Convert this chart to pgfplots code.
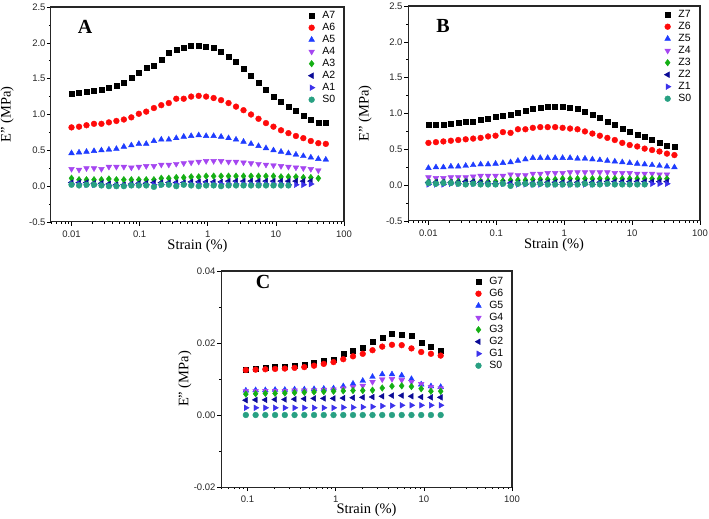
\documentclass[border=0pt]{standalone}
\usepackage{pgfplots}
\usepackage{pgfplotstable}
\pgfplotsset{compat=1.18}
\usepackage{fontspec}
\setmainfont{Liberation Serif}
\newfontfamily\sansf{Liberation Sans}

\definecolor{cRed}{RGB}{255,10,10}
\definecolor{cBlue}{RGB}{30,60,255}
\definecolor{cViolet}{RGB}{165,70,240}
\definecolor{cGreen}{RGB}{20,175,20}
\definecolor{cNavy}{RGB}{10,10,150}
\definecolor{cBV}{RGB}{60,50,235}
\definecolor{cTeal}{RGB}{40,160,130}

\pgfplotstableread{
x A7 A6 A5 A4 A3 A2 A1 S0
0.0100 1.29 0.82 0.46 0.24 0.11 0.05 0.03 0.02
0.0129 1.31 0.83 0.47 0.23 0.09 0.05 0.03 0.01
0.0166 1.32 0.85 0.48 0.25 0.09 0.05 0.02 0.02
0.0214 1.33 0.87 0.49 0.25 0.09 0.04 0.02 0.02
0.0275 1.35 0.87 0.50 0.24 0.09 0.04 0.02 0.01
0.0354 1.37 0.89 0.51 0.27 0.10 0.03 0.01 0.00
0.0456 1.40 0.91 0.52 0.27 0.09 0.02 0.01 0.00
0.0587 1.45 0.93 0.55 0.27 0.09 0.02 0.01 0.00
0.0756 1.51 0.96 0.57 0.26 0.09 0.03 0.02 0.01
0.0974 1.58 1.01 0.59 0.27 0.09 0.04 0.02 0.01
0.125 1.65 1.04 0.59 0.28 0.09 0.04 0.02 0.01
0.162 1.68 1.09 0.63 0.28 0.09 0.05 0.02 -0.01
0.208 1.77 1.13 0.65 0.30 0.11 0.05 0.02 0.02
0.268 1.86 1.16 0.65 0.30 0.11 0.05 0.03 0.02
0.345 1.90 1.22 0.67 0.31 0.12 0.05 0.03 0.00
0.444 1.93 1.22 0.69 0.32 0.12 0.05 0.03 0.02
0.571 1.96 1.25 0.70 0.33 0.13 0.06 0.03 0.01
0.736 1.96 1.26 0.71 0.34 0.13 0.06 0.03 0.00
0.947 1.95 1.25 0.70 0.35 0.14 0.06 0.03 0.01
1.22 1.93 1.23 0.70 0.35 0.14 0.06 0.03 0.01
1.57 1.87 1.20 0.69 0.35 0.14 0.06 0.03 0.00
2.02 1.81 1.16 0.67 0.34 0.14 0.07 0.03 0.01
2.60 1.73 1.11 0.65 0.34 0.14 0.07 0.03 0.01
3.35 1.64 1.06 0.62 0.33 0.14 0.07 0.03 0.01
4.32 1.54 1.00 0.59 0.32 0.14 0.07 0.03 0.01
5.56 1.44 0.94 0.56 0.31 0.14 0.07 0.03 0.01
7.16 1.35 0.88 0.53 0.30 0.14 0.07 0.03 0.01
9.22 1.25 0.83 0.50 0.29 0.14 0.07 0.03 0.01
11.9 1.18 0.78 0.48 0.28 0.13 0.07 0.03 0.01
15.3 1.11 0.74 0.46 0.27 0.13 0.07 0.02 0.01
19.7 1.05 0.70 0.44 0.26 0.13 0.07 0.02 nan
25.3 0.99 0.67 0.42 0.25 0.12 0.07 0.02 nan
32.6 0.93 0.63 0.40 0.24 0.12 0.07 0.03 nan
42.0 0.89 0.60 0.38 0.22 0.11 nan nan nan
54.1 0.88 0.59 0.37 nan nan nan nan nan
}\tabA

\pgfplotstableread{
x Z7 Z6 Z5 Z4 Z3 Z2 Z1 S0
0.0100 0.84 0.59 0.24 0.11 0.04 0.04 0.01 0.03
0.0129 0.85 0.60 0.25 0.10 0.04 0.04 0.01 0.02
0.0166 0.85 0.61 0.25 0.10 0.04 0.04 0.01 0.03
0.0214 0.86 0.62 0.26 0.11 0.04 0.04 0.02 0.03
0.0275 0.87 0.63 0.26 0.11 0.05 0.04 0.02 0.02
0.0354 0.88 0.64 0.27 0.11 0.05 0.05 0.02 0.01
0.0456 0.89 0.65 0.28 0.12 0.05 0.05 0.02 0.02
0.0587 0.91 0.66 0.29 0.13 0.05 0.04 0.02 0.01
0.0756 0.93 0.68 0.29 0.13 0.05 0.03 0.02 0.01
0.0974 0.95 0.69 0.30 0.13 0.05 0.02 0.02 0.01
0.125 0.97 0.74 0.31 0.13 0.06 0.03 0.02 0.02
0.162 0.99 0.73 0.32 0.15 0.07 0.03 0.01 -0.01
0.208 1.01 0.78 0.34 0.14 0.07 0.03 0.01 0.02
0.268 1.04 0.78 0.36 0.14 0.07 0.03 0.01 0.02
0.345 1.07 0.80 0.38 0.16 0.08 0.03 0.01 0.01
0.444 1.08 0.81 0.38 0.16 0.08 0.04 0.01 0.02
0.571 1.09 0.81 0.38 0.17 0.08 0.04 0.01 0.01
0.736 1.10 0.81 0.38 0.17 0.08 0.04 0.01 0.01
0.947 1.09 0.80 0.38 0.17 0.09 0.04 0.01 0.01
1.22 1.08 0.79 0.38 0.18 0.09 0.04 0.01 0.01
1.57 1.06 0.78 0.37 0.18 0.09 0.04 0.01 0.01
2.02 1.03 0.75 0.37 0.18 0.09 0.04 0.01 0.02
2.60 0.99 0.72 0.36 0.18 0.09 0.04 0.01 0.01
3.35 0.94 0.69 0.35 0.18 0.09 0.04 0.02 0.01
4.32 0.89 0.66 0.34 0.18 0.09 0.05 0.02 0.02
5.56 0.84 0.63 0.33 0.17 0.09 0.05 0.02 0.01
7.16 0.79 0.59 0.32 0.17 0.09 0.05 0.02 0.01
9.22 0.74 0.56 0.31 0.17 0.09 0.05 0.02 0.01
11.9 0.70 0.54 0.30 0.16 0.09 0.05 0.02 0.01
15.3 0.67 0.51 0.29 0.16 0.09 0.05 0.02 0.01
19.7 0.63 0.49 0.28 0.16 0.09 0.05 0.02 nan
25.3 0.59 0.47 0.27 0.15 0.09 0.05 0.02 nan
32.6 0.55 0.44 0.26 0.15 0.09 0.05 0.02 nan
42.0 0.53 0.42 0.25 nan nan nan nan nan
}\tabB

\pgfplotstableread{
x G7 G6 G5 G4 G3 G2 G1 S0
0.0957 0.0127 0.0125 0.0068 0.0066 0.0058 0.0041 0.0020 0
0.1235 0.0130 0.0126 0.0069 0.0066 0.0059 0.0042 0.0020 0
0.1592 0.0131 0.0127 0.0069 0.0067 0.0060 0.0042 0.0020 0
0.2054 0.0133 0.0128 0.0070 0.0067 0.0060 0.0043 0.0020 0
0.2649 0.0135 0.0129 0.0070 0.0067 0.0061 0.0043 0.0020 0
0.3416 0.0138 0.0131 0.0071 0.0068 0.0062 0.0044 0.0020 0
0.4406 0.0141 0.0133 0.0071 0.0068 0.0063 0.0045 0.0020 0
0.5682 0.0146 0.0137 0.0072 0.0069 0.0064 0.0046 0.0020 0
0.7328 0.0150 0.0142 0.0073 0.0070 0.0065 0.0046 0.0020 0
0.9452 0.0155 0.0147 0.0074 0.0071 0.0066 0.0046 0.0020 0
1.219 0.0170 0.0155 0.0080 0.0074 0.0067 0.0047 0.0021 0
1.572 0.0180 0.0163 0.0087 0.0078 0.0068 0.0048 0.0021 0
2.028 0.0188 0.0170 0.0095 0.0081 0.0068 0.0049 0.0022 0
2.616 0.0205 0.0180 0.0106 0.0092 0.0069 0.0050 0.0023 0
3.373 0.0216 0.0190 0.0113 0.0099 0.0075 0.0052 0.0025 0
4.350 0.0225 0.0195 0.0113 0.0100 0.0080 0.0054 0.0026 0
5.610 0.0224 0.0194 0.0110 0.0097 0.0081 0.0054 0.0027 0
7.236 0.0220 0.0185 0.0100 0.0092 0.0079 0.0052 0.0027 0
9.333 0.0200 0.0175 0.0085 0.0086 0.0073 0.0050 0.0027 0
12.04 0.0190 0.0170 0.0080 0.0078 0.0066 0.0049 0.0027 0
15.52 0.0180 0.0165 0.0078 0.0074 0.0066 0.0049 0.0027 0
}\tabC

\tikzset{frameline/.style={draw=black!85, line width=1.1pt}}

\pgfplotsset{
  every axis/.append style={
    scale only axis, clip=false,
    tick align=outside, xtick pos=left, ytick pos=left,
    major tick length=4pt, minor tick length=2pt,
    axis line style={black!85, line width=1pt},
    every tick/.style={black, line width=0.6pt},
    tick label style={font=\sansf\fontsize{9.5}{10}\selectfont, text=black!85},
    xticklabel style={yshift=-1pt},
    yticklabel style={xshift=2pt},
    label style={font=\fontsize{14.5}{15}\selectfont},
    xlabel style={at={(axis description cs:0.5,-0.113)}, anchor=center},
    scaled y ticks=false,
    legend cell align=left,
    legend style={at={(1,1)}, anchor=north east, xshift=-5pt, yshift=-1pt,
      draw=none, fill=none, font=\sansf\fontsize{10.5}{10}\selectfont,
      row sep=1pt, column sep=7pt, line width=0.4pt,
      nodes={inner sep=0.5pt, text height=8pt, text depth=2pt}},
  },
  sA/.style={only marks, black, mark=square*, mark size=2.5pt},
  sB/.style={only marks, cRed, mark=*, mark size=2.9pt},
  sC/.style={only marks, cBlue, mark=triangle*, mark size=3.3pt},
  sD/.style={only marks, cViolet, mark=triangle*, mark size=3.3pt, mark options={rotate=180}},
  sE/.style={only marks, cGreen, mark=diamond*, mark size=3.3pt},
  sF/.style={only marks, cNavy, mark=triangle*, mark size=3.3pt, mark options={rotate=90}},
  sG/.style={only marks, cBV, mark=triangle*, mark size=3.3pt, mark options={rotate=-90}},
  sH/.style={only marks, cTeal, mark=*, mark size=2.9pt},
}

\begin{document}
\begin{tikzpicture}
\useasboundingbox (0pt,0pt) rectangle (709pt,519pt);

% Panel A
\begin{axis}[xmode=log, at={(51pt,297pt)}, anchor=south west, width=293pt, height=215pt,
  xmin=0.005, xmax=100,
  xtick={0.01,0.1,1,10,100}, xticklabels={0.01,0.1,1,10,100},
  minor xtick={0.005,0.006,0.007,0.008,0.009,0.02,0.03,0.04,0.05,0.06,0.07,0.08,0.09,0.2,0.3,0.4,0.5,0.6,0.7,0.8,0.9,2,3,4,5,6,7,8,9,20,30,40,50,60,70,80,90},
  ymin=-0.5, ymax=2.5, ytick={-0.5,0,0.5,1,1.5,2,2.5}, minor y tick num=1,
  yticklabel={\pgfmathprintnumber[fixed,fixed zerofill,precision=1,assume math mode=true]{\tick}},
  xlabel={Strain (\%)}, ylabel={E'' (MPa)},
  ylabel style={at={(axis description cs:-0.150,0.5)}, anchor=center},
  legend image code/.code={\draw[mark repeat=2,mark phase=2,#1] plot coordinates {(0pt,0pt) (5pt,0pt) (10pt,0pt)};}]
\addplot[sA] table[x=x,y=A7] {\tabA}; \addlegendentry{A7}
\addplot[sB] table[x=x,y=A6] {\tabA}; \addlegendentry{A6}
\addplot[sC] table[x=x,y=A5] {\tabA}; \addlegendentry{A5}
\addplot[sD] table[x=x,y=A4] {\tabA}; \addlegendentry{A4}
\addplot[sE] table[x=x,y=A3] {\tabA}; \addlegendentry{A3}
\addplot[sF] table[x=x,y=A2] {\tabA}; \addlegendentry{A2}
\addplot[sG] table[x=x,y=A1] {\tabA}; \addlegendentry{A1}
\addplot[sH] table[x=x,y=S0] {\tabA}; \addlegendentry{S0}
\draw[frameline] (axis cs:0.005,2.5) -- (axis cs:100,2.5) -- (axis cs:100,-0.5);
\node[font=\bfseries\fontsize{20}{20}\selectfont] at (axis description cs:0.116,0.907) {A};
\end{axis}

% Panel B
\begin{axis}[xmode=log, at={(408pt,298pt)}, anchor=south west, width=292pt, height=215pt,
  xmin=0.005, xmax=100,
  xtick={0.01,0.1,1,10,100}, xticklabels={0.01,0.1,1,10,100},
  minor xtick={0.005,0.006,0.007,0.008,0.009,0.02,0.03,0.04,0.05,0.06,0.07,0.08,0.09,0.2,0.3,0.4,0.5,0.6,0.7,0.8,0.9,2,3,4,5,6,7,8,9,20,30,40,50,60,70,80,90},
  ymin=-0.5, ymax=2.5, ytick={-0.5,0,0.5,1,1.5,2,2.5}, minor y tick num=1,
  yticklabel={\pgfmathprintnumber[fixed,fixed zerofill,precision=1,assume math mode=true]{\tick}},
  xlabel={Strain (\%)}, ylabel={E'' (MPa)},
  ylabel style={at={(axis description cs:-0.147,0.5)}, anchor=center},
  legend image code/.code={\draw[mark repeat=2,mark phase=2,#1] plot coordinates {(0pt,0pt) (5pt,0pt) (10pt,0pt)};}]
\addplot[sA] table[x=x,y=Z7] {\tabB}; \addlegendentry{Z7}
\addplot[sB] table[x=x,y=Z6] {\tabB}; \addlegendentry{Z6}
\addplot[sC] table[x=x,y=Z5] {\tabB}; \addlegendentry{Z5}
\addplot[sD] table[x=x,y=Z4] {\tabB}; \addlegendentry{Z4}
\addplot[sE] table[x=x,y=Z3] {\tabB}; \addlegendentry{Z3}
\addplot[sF] table[x=x,y=Z2] {\tabB}; \addlegendentry{Z2}
\addplot[sG] table[x=x,y=Z1] {\tabB}; \addlegendentry{Z1}
\addplot[sH] table[x=x,y=S0] {\tabB}; \addlegendentry{S0}
\draw[frameline] (axis cs:0.005,2.5) -- (axis cs:100,2.5) -- (axis cs:100,-0.5);
\node[font=\bfseries\fontsize{20}{20}\selectfont] at (axis description cs:0.12,0.907) {B};
\end{axis}

% Panel C
\begin{axis}[xmode=log, at={(221pt,32pt)}, anchor=south west, width=291pt, height=216pt,
  xmin=0.05, xmax=100, xtick={0.1,1,10,100}, xticklabels={0.1,1,10,100},
  minor xtick={0.05,0.06,0.07,0.08,0.09,0.2,0.3,0.4,0.5,0.6,0.7,0.8,0.9,2,3,4,5,6,7,8,9,20,30,40,50,60,70,80,90},
  ymin=-0.02, ymax=0.04, ytick={-0.02,0,0.02,0.04}, minor y tick num=1,
  yticklabel={\pgfmathprintnumber[fixed,fixed zerofill,precision=2,assume math mode=true]{\tick}},
  xlabel={Strain (\%)}, ylabel={E'' (MPa)},
  xlabel style={at={(axis description cs:0.5,-0.105)}},
  ylabel style={at={(axis description cs:-0.124,0.5)}, anchor=center},
  legend style={yshift=-2pt},
  legend image code/.code={\draw[mark repeat=2,mark phase=2,#1] plot coordinates {(0pt,0pt) (5pt,0pt) (10pt,0pt)};}]
\addplot[sA] table[x=x,y=G7] {\tabC}; \addlegendentry{G7}
\addplot[sB] table[x=x,y=G6] {\tabC}; \addlegendentry{G6}
\addplot[sC] table[x=x,y=G5] {\tabC}; \addlegendentry{G5}
\addplot[sD] table[x=x,y=G4] {\tabC}; \addlegendentry{G4}
\addplot[sE] table[x=x,y=G3] {\tabC}; \addlegendentry{G3}
\addplot[sF] table[x=x,y=G2] {\tabC}; \addlegendentry{G2}
\addplot[sG] table[x=x,y=G1] {\tabC}; \addlegendentry{G1}
\addplot[sH] table[x=x,y=S0] {\tabC}; \addlegendentry{S0}
\draw[frameline] (axis cs:0.05,0.04) -- (axis cs:100,0.04) -- (axis cs:100,-0.02);
\node[font=\bfseries\fontsize{20}{20}\selectfont] at (axis description cs:0.145,0.949) {C};
\end{axis}
\end{tikzpicture}
\end{document}
